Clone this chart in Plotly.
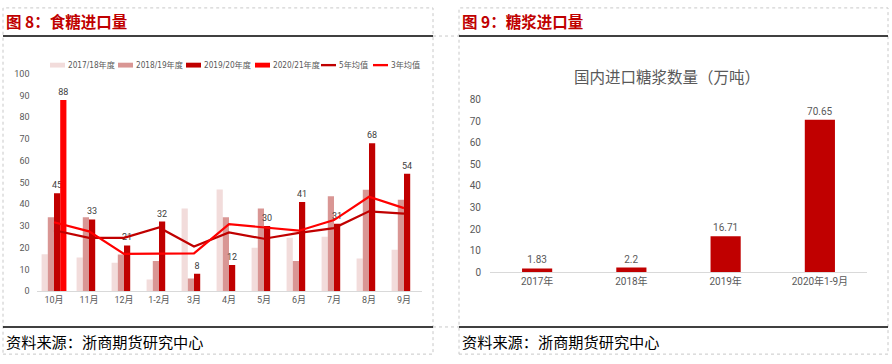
import plotly.graph_objects as go

W, H = 892, 364

# ---------------- data: 图8 食糖进口量 ----------------
months = ["10月", "11月", "12月", "1-2月", "3月", "4月", "5月", "6月", "7月", "8月", "9月"]
s2017_18 = [17, 15.5, 13, 5.3, 38, 46.8, 20, 24.5, 25, 15, 19]
s2018_19 = [34, 34, 16.8, 13.8, 5.8, 34, 38, 13.8, 43.7, 46.7, 42]
s2019_20 = [45, 33, 21, 32, 8, 12, 30, 41, 31, 68, 54]
s2020_21 = [88, None, None, None, None, None, None, None, None, None, None]
avg5 = [28, 24.5, 24.5, 29.3, 20.5, 27, 24.1, 26.8, 29, 36.7, 35.7]
avg3 = [31.7, 27.5, 17.1, 17.1, 17.4, 30.8, 29.3, 27.8, 32.7, 43.4, 38.2]
left_ticks = [0, 10, 20, 30, 40, 50, 60, 70, 80, 90, 100]

# ---------------- data: 图9 糖浆进口量 ----------------
years = ["2017年", "2018年", "2019年", "2020年1-9月"]
syrup = [1.83, 2.2, 16.71, 70.65]
syrup_labels = ["1.83", "2.2", "16.71", "70.65"]
right_ticks = [0, 10, 20, 30, 40, 50, 60, 70, 80]

C_LIGHT = "#F2DCDB"
C_MID = "#D99694"
C_DARK = "#C00000"
C_RED = "#FF0000"
GRAY = "#595959"
FONT = "Roboto, Noto Sans CJK SC, sans-serif"
NARROW = "Liberation Sans Narrow, DejaVu Sans Condensed, Roboto, Noto Sans CJK SC, sans-serif"
CJK = "Noto Sans CJK SC, sans-serif"


def px(x):
    return x / W


def py(y):
    return 1 - y / H


fig = go.Figure()

bar_specs = [
    ("2017/18年度", s2017_18, C_LIGHT),
    ("2018/19年度", s2018_19, C_MID),
    ("2019/20年度", s2019_20, C_DARK),
    ("2020/21年度", s2020_21, C_RED),
]
for name, vals, col in bar_specs:
    show_text = name in ("2019/20年度", "2020/21年度")
    fig.add_trace(go.Bar(
        x=months, y=vals, name=name, marker_color=col, marker_line_width=0,
        text=[("" if v is None else f"{v:g}") for v in vals] if show_text else None,
        textposition="outside", cliponaxis=False, constraintext="none",
        textfont=dict(size=9, color="#404040", family=FONT),
        xaxis="x", yaxis="y", showlegend=False,
    ))

for name, vals, col in [("5年均值", avg5, C_DARK), ("3年均值", avg3, C_RED)]:
    fig.add_trace(go.Scatter(
        x=months, y=vals, name=name, mode="lines",
        line=dict(color=col, width=2.2), xaxis="x", yaxis="y", showlegend=False,
    ))

fig.add_trace(go.Bar(
    x=years, y=syrup, marker_color=C_DARK, marker_line_width=0, width=0.32,
    text=syrup_labels, textposition="outside", cliponaxis=False, constraintext="none",
    textfont=dict(size=10, color=GRAY, family=FONT),
    xaxis="x2", yaxis="y2", showlegend=False,
))

fig.update_layout(
    width=W, height=H, margin=dict(l=0, r=0, t=0, b=0),
    paper_bgcolor="white", plot_bgcolor="white",
    barmode="group", bargap=0.29, bargroupgap=0,
    font=dict(family=FONT, color=GRAY),
    xaxis=dict(domain=[px(36.5), px(421.5)], anchor="y", showgrid=False,
               showline=True, linecolor="#D9D9D9", linewidth=1, ticks="",
               tickfont=dict(size=9, color=GRAY, family=FONT)),
    yaxis=dict(domain=[py(295), py(71)], range=[0, 100], anchor="x",
               tickvals=left_ticks, showgrid=False, zeroline=False,
               tickfont=dict(size=9, color=GRAY, family=FONT), ticklabelstandoff=6),
    xaxis2=dict(domain=[px(490), px(867)], anchor="y2", showgrid=False,
                showline=True, linecolor="#D9D9D9", linewidth=1, ticks="",
                tickfont=dict(size=10, color=GRAY, family=FONT)),
    yaxis2=dict(domain=[py(275.7), py(97.4)], range=[0, 80], anchor="x2",
                tickvals=right_ticks, showgrid=False, zeroline=False,
                tickfont=dict(size=10, color=GRAY, family=FONT), ticklabelstandoff=8),
)

shapes = []
annotations = []

# panel frames (dashed)
dash = dict(color="#C8C8C8", width=1, dash="dot")
for x0, x1 in [(3, 433), (459, 888)]:
    shapes.append(dict(type="rect", xref="paper", yref="paper",
                       x0=px(x0), x1=px(x1), y0=py(360), y1=py(3), line=dash))
shapes.append(dict(type="line", xref="paper", yref="paper", x0=px(433), x1=px(459),
                   y0=py(32), y1=py(32), line=dash))
shapes.append(dict(type="line", xref="paper", yref="paper", x0=px(433), x1=px(459),
                   y0=py(332), y1=py(332), line=dash))
# black rules
for x0, x1 in [(3, 433), (459, 888)]:
    for yy in (32, 332):
        shapes.append(dict(type="line", xref="paper", yref="paper", x0=px(x0), x1=px(x1),
                           y0=py(yy), y1=py(yy), line=dict(color="black", width=1.5)))

# titles
annotations.append(dict(text="<b>图 8：食糖进口量</b>", x=px(4), y=py(16), xref="paper", yref="paper",
                        xanchor="left", yanchor="middle", showarrow=False,
                        font=dict(size=15.5, color=C_DARK, family=CJK)))
annotations.append(dict(text="<b>图 9：糖浆进口量</b>", x=px(460), y=py(16), xref="paper", yref="paper",
                        xanchor="left", yanchor="middle", showarrow=False,
                        font=dict(size=15.5, color=C_DARK, family=CJK)))
for xx in (3, 459):
    annotations.append(dict(text="资料来源：浙商期货研究中心", x=px(xx + 1), y=py(346), xref="paper",
                            yref="paper", xanchor="left", yanchor="middle", showarrow=False,
                            font=dict(size=15.2, color="black", family=CJK)))
annotations.append(dict(text="国内进口糖浆数量（万吨）", x=px(667), y=py(73), xref="paper", yref="paper",
                        xanchor="center", yanchor="middle", showarrow=False,
                        font=dict(size=15.5, color=GRAY, family=CJK)))

# manual legend for 图8
legend_items = [(n, c, "bar") for n, _, c in bar_specs] + [("5年均值", C_DARK, "line"), ("3年均值", C_RED, "line")]
legend_x = [50, 118, 186, 255, 321, 373]
ly = 62
for (name, col, kind), x0 in zip(legend_items, legend_x):
    hh = 2.5 if kind == "bar" else 1.2
    shapes.append(dict(type="rect", xref="paper", yref="paper", x0=px(x0), x1=px(x0 + 15),
                       y0=py(ly + hh), y1=py(ly - hh), fillcolor=col, line=dict(width=0)))
    annotations.append(dict(text=name, x=px(x0 + 16), y=py(ly), xref="paper", yref="paper",
                            xanchor="left", yanchor="middle", showarrow=False,
                            font=dict(size=8.2, color=GRAY, family=NARROW)))

fig.update_layout(shapes=shapes, annotations=annotations)
fig.write_html("out.html", config={"displayModeBar": False},
               post_script="document.body.style.margin='0';document.body.style.overflow='hidden';")
